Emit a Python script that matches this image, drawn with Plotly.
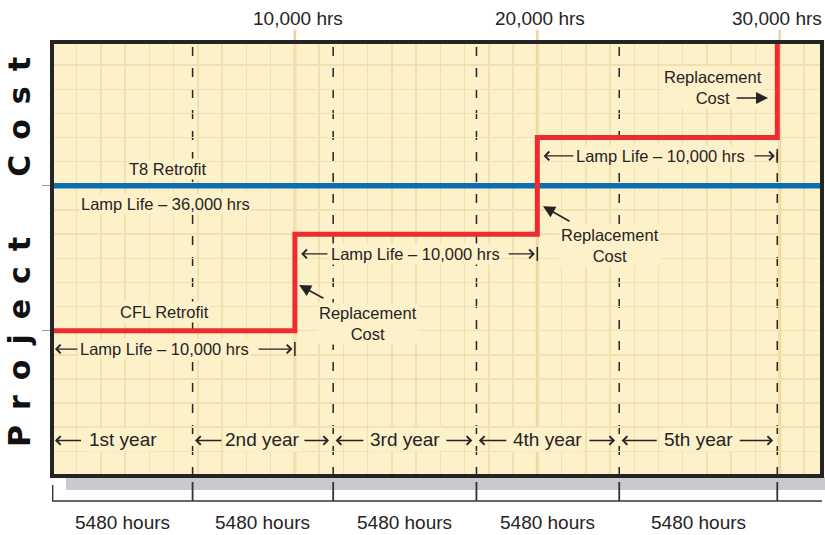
import plotly.graph_objects as go

# ---------------- data ----------------
# x in operating hours (1 grid cell = 1000 hrs), y in cost units (1 grid cell = 1)
t8_x = [0, 31745]
t8_y = [12, 12]

cfl_step_x = [0, 10000, 20000, 29900]
cfl_step_y = [6, 10, 14, 18]

year_bounds = [0, 5780, 11580, 17490, 23380, 29900]
year_labels = ["1st year", "2nd year", "3rd year", "4th year", "5th year"]
year_hours_label = "5480 hours"

milestones = [10000, 20000, 30000]
milestone_label_x = [10120, 20100, 29870]
milestone_labels = ["10,000 hrs", "20,000 hrs", "30,000 hrs"]

lamp_seg_start = [0, 10000, 20000]
lamp_seg_end = [10000, 20000, 29900]
lamp_text_x = [4640, 14955, 25100]
lamp_text_y = [5.24, 9.18, 13.24]
lamp_label = "Lamp Life – 10,000 hrs"

repl_text_x = [13015, 23000, 27245]
repl_text_y = [6.28, 9.51, 16.09]
repl_tail = [(11240, 7.31), (21390, 10.50), (28160, 15.64)]
repl_head = [(10170, 7.89), (20235, 11.16), (29520, 15.64)]

cost_ticks = [6, 12, 18]

# ---------------- styles ----------------
BG = "#FDF1CA"
GRID = "#F3E0B0"
TAN = "#EDD59C"
INK = "#262324"
RED = "#EE2B2E"
BLUE = "#0A6FB0"
FONT = "Liberation Sans, Arial, Helvetica, sans-serif"
MID = 16.5
BIG = 19

fig = go.Figure()

fig.add_trace(go.Scatter(x=t8_x, y=t8_y, mode="lines",
                         line=dict(color=BLUE, width=5.5), hoverinfo="skip"))
fig.add_trace(go.Scatter(x=cfl_step_x, y=cfl_step_y, mode="lines", line_shape="hv",
                         line=dict(color=RED, width=5), hoverinfo="skip"))
# small end bars of the lamp-life spans
fig.add_trace(go.Scatter(x=lamp_seg_end, y=lamp_text_y, mode="markers",
                         marker=dict(symbol="line-ns", size=10,
                                     line=dict(color=INK, width=1.5)),
                         hoverinfo="skip"))

shapes = []
for m in milestones:
    shapes.append(dict(type="line", xref="x", yref="paper", x0=m, x1=m, y0=0, y1=1,
                       line=dict(color=TAN, width=3), layer="between"))
    shapes.append(dict(type="line", xref="x", yref="paper", x0=m, x1=m, y0=1, y1=1.028,
                       line=dict(color=TAN, width=2.5), layer="above"))
for b in year_bounds[1:]:
    shapes.append(dict(type="line", xref="x", yref="paper", x0=b, x1=b, y0=0, y1=1,
                       line=dict(color=INK, width=1.5, dash="9px,12px"), layer="between"))
shapes.append(dict(type="rect", xref="paper", yref="paper", x0=0.0182, x1=1.05,
                   y0=-0.0323, y1=-0.003, fillcolor="#C8CACE", line=dict(width=0),
                   layer="below"))
shapes.append(dict(type="rect", xref="paper", yref="paper", x0=0, x1=1, y0=0, y1=1,
                   line=dict(color=INK, width=4), layer="above"))
shapes.append(dict(type="line", xref="paper", yref="paper", x0=0, x1=1,
                   y0=-0.0576, y1=-0.0576, line=dict(color="#333333", width=1.5)))
for i, b in enumerate(year_bounds):
    top = -0.0207 if i == 0 else -0.0138
    shapes.append(dict(type="line", xref="x", yref="paper", x0=b, x1=b,
                       y0=-0.0576, y1=top, line=dict(color="#333333", width=1.8)))

ann = []
def txt(x, y, s, size=MID, xref="x", yref="y", bg=BG, **kw):
    ann.append(dict(x=x, y=y, xref=xref, yref=yref, text=s, showarrow=False,
                    xanchor="center", yanchor="middle",
                    font=dict(family=FONT, size=size, color=INK),
                    bgcolor=bg, borderpad=1, **kw))

def arrow(tx, ty, hx, hy, head=4, size=1.3, width=1.3):
    ann.append(dict(x=hx, y=hy, ax=tx, ay=ty, xref="x", yref="y", axref="x", ayref="y",
                    text="", showarrow=True, arrowhead=head, arrowsize=size,
                    arrowwidth=width, arrowcolor=INK, standoff=0, startstandoff=0))

for i, lab in enumerate(year_labels):
    a, b = year_bounds[i], year_bounds[i + 1]
    c = (a + b) / 2
    yy = 1.45
    arrow(c - 1650, yy, a + 100, yy)
    if i > 0:
        arrow(c + 1650, yy, b - 170, yy)
    txt(c, 1.51, lab, size=BIG)

for s, e, cx, cy in zip(lamp_seg_start, lamp_seg_end, lamp_text_x, lamp_text_y):
    arrow(cx - 3550, cy, s + (100 if s == 0 else 260), cy)
    arrow(cx + 3800, cy, e - 100, cy)
    txt(cx, cy, lamp_label)

for x, y in zip(repl_text_x, repl_text_y):
    txt(x, y, "Replacement<br>Cost")
for (tx, ty), (hx, hy) in zip(repl_tail, repl_head):
    arrow(tx, ty, hx, hy, head=2, size=1.5, width=1.6)

txt(4765, 12.70, "T8 Retrofit")
txt(4660, 11.25, "Lamp Life – 36,000 hrs")
txt(4640, 6.77, "CFL Retrofit")

for x, lab in zip(milestone_label_x, milestone_labels):
    txt(x, 1.055, lab, size=BIG, yref="paper", bg="rgba(0,0,0,0)")

for i in range(len(year_labels)):
    c = (year_bounds[i] + year_bounds[i + 1]) / 2
    txt(c, -0.108, year_hours_label, size=BIG, yref="paper", bg="rgba(0,0,0,0)")

sp = "\u2002"
title = sp.join("Project") + sp * 4 + sp.join("Cost")
ann.append(dict(x=0, y=0.5, xref="paper", yref="paper", text="<b>" + title + "</b>",
                showarrow=False, textangle=-90, xanchor="center", yanchor="middle",
                xshift=-32.5, yshift=6.5,
                font=dict(family="DejaVu Sans", size=30, color="#111111")))

fig.update_layout(
    width=825, height=535,
    margin=dict(l=52, r=3, t=42, b=59),
    paper_bgcolor="white", plot_bgcolor=BG,
    showlegend=False, hovermode=False,
    shapes=shapes, annotations=ann,
    xaxis=dict(range=[-20, 31745], dtick=1000, tick0=0, showgrid=True,
               gridcolor=GRID, gridwidth=1.5, zeroline=False,
               showticklabels=False, ticks="", showline=False, fixedrange=True),
    yaxis=dict(range=[-0.02, 17.96], tickmode="array", tickvals=cost_ticks,
               showgrid=True, gridcolor=GRID, gridwidth=1.5,
               zeroline=False, showticklabels=False,
               ticks="outside", ticklen=9, tickwidth=1, tickcolor="#8C9BAA",
               showline=False, fixedrange=True,
               minor=dict(dtick=1, tick0=0, showgrid=True,
                          gridcolor=GRID, gridwidth=1.5, ticks="")),
)

fig.write_html("out.html", config={"displayModeBar": False, "staticPlot": True},
               post_script="document.body.style.margin='0';")
